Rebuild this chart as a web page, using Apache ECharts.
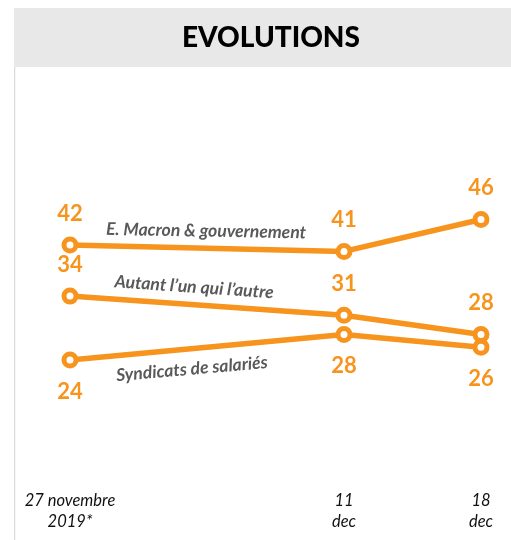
<!DOCTYPE html>
<html><head><meta charset="utf-8">
<script src="https://cdn.jsdelivr.net/npm/echarts@6/dist/echarts.min.js"></script>
<style>html,body{margin:0;padding:0;background:#fff}#c{width:511px;height:540px}</style>
</head><body><div id="c"></div>
<script>
// day offsets from 27 Nov 2019
const dayOffsets = [0, 14, 21];
const tickLabels = ['27 novembre\n2019*', '11\ndec', '18\ndec'];
const seriesNames = ['E. Macron & gouvernement', "Autant l\u2019un qui l\u2019autre", 'Syndicats de salariés'];
const macron = [42, 41, 46];
const autant = [34, 31, 28];
const syndicats = [24, 28, 26];

const ORANGE = '#F7941E';
const chart = echarts.init(document.getElementById('c'));

function pairs(vals){ return vals.map((v,i)=>[dayOffsets[i], v]); }

function mkSeries(name, vals, pos, nameCoord, rot){
  return {
    name: name, type: 'line', data: pairs(vals),
    symbol: 'circle', symbolSize: 12,
    lineStyle: {color: ORANGE, width: 5.5},
    itemStyle: {color: '#fff', borderColor: ORANGE, borderWidth: 5},
    label: {show: true, position: pos, distance: 12, color: ORANGE,
      fontFamily: 'Lato', fontWeight: 'bold', fontSize: 22},
    emphasis: {disabled: true},
    markPoint: {
      symbol: 'circle', symbolSize: 0, silent: true,
      data: [{coord: nameCoord, value: name}],
      label: {show: true, position: 'inside', formatter: name, rotate: rot,
        color: '#595959', fontFamily: 'Lato', fontStyle: 'italic', fontWeight: 'bold', fontSize: 17.5}
    }
  };
}

chart.setOption({
  animation: false,
  graphic: [
    {type: 'rect', shape: {x: 14, y: 8, width: 497, height: 59}, style: {fill: '#e8e8e8'}},
    {type: 'rect', shape: {x: 14, y: 67, width: 1.2, height: 473}, style: {fill: '#d9d9d9'}},
    {type: 'text', x: 271, y: 38, style: {text: 'EVOLUTIONS', align: 'center', verticalAlign: 'middle',
      font: '900 28px Lato', fill: '#000'}}
  ],
  grid: {left: 70, right: 30, top: 130, bottom: 58.6},
  xAxis: {type: 'value', min: 0, max: 21,
    axisLine: {show: false}, axisTick: {show: false}, splitLine: {show: false},
    axisLabel: {customValues: dayOffsets, margin: 9,
      formatter: v => tickLabels[dayOffsets.indexOf(v)] || '',
      fontFamily: 'Lato', fontStyle: 'italic', fontSize: 16.5, lineHeight: 21, color: '#111'}},
  yAxis: {type: 'value', min: 5, max: 60, show: false, splitLine: {show: false}},
  series: [
    mkSeries(seriesNames[0], macron, 'top', [6.95, 44.2], -1),
    mkSeries(seriesNames[1], autant, 'top', [6.34, 35.4], -4),
    mkSeries(seriesNames[2], syndicats, 'bottom', [6.23, 22.6], 5)
  ]
});
</script></body></html>
